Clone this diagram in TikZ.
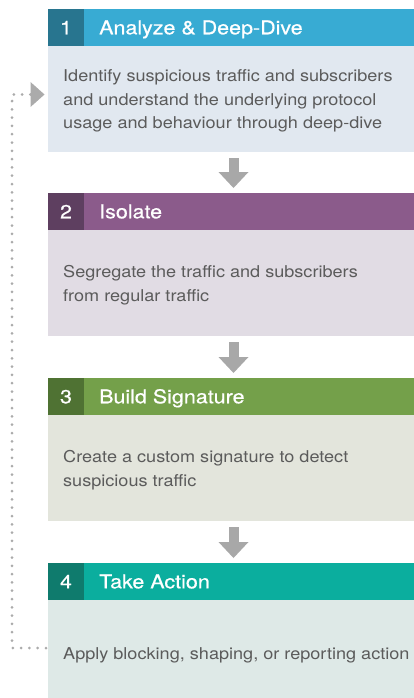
\documentclass[tikz,border=0pt]{standalone}
\usepackage{fontspec}
\setmainfont{TeX Gyre Heros}
\newfontfamily\bodyfont[FakeStretch=1.11]{TeX Gyre Heros}
\newfontfamily\titlefont[FakeStretch=1.13,FakeBold=0.6]{TeX Gyre Heros}
\usetikzlibrary{arrows.meta}
\definecolor{hA}{HTML}{38ABD3}\definecolor{sA}{HTML}{28758F}\definecolor{bA}{HTML}{E1E8F0}
\definecolor{hB}{HTML}{8B5B8B}\definecolor{sB}{HTML}{5E3F60}\definecolor{bB}{HTML}{E1DCE4}
\definecolor{hC}{HTML}{74A04A}\definecolor{sC}{HTML}{4F7233}\definecolor{bC}{HTML}{E3E5DC}
\definecolor{hD}{HTML}{0BAE9E}\definecolor{sD}{HTML}{0F7B6D}\definecolor{bD}{HTML}{DEE9E7}
\definecolor{arrowgray}{HTML}{A8A8A8}
\definecolor{dotgray}{HTML}{ABABAB}
\definecolor{txtgray}{HTML}{5B5B5B}
\begin{document}
\begin{tikzpicture}[x=1pt,y=-1pt,
  hdr/.style={rectangle, inner sep=0pt, outer sep=0pt, minimum width=371pt, minimum height=37pt, anchor=north west},
  numbox/.style={rectangle, inner sep=0pt, outer sep=0pt, minimum width=36pt, minimum height=37pt, anchor=north west},
  bodybox/.style={rectangle, inner sep=0pt, outer sep=0pt, minimum width=371pt, minimum height=106pt, anchor=north west},
  ttl/.style={anchor=base west, inner sep=0pt, text=white, font=\titlefont\fontsize{19}{22}\selectfont},
  numtxt/.style={anchor=base, inner sep=0pt, text=white, font=\titlefont\fontsize{19}{22}\selectfont},
  desc/.style={anchor=west, inner sep=0pt, align=left, text=txtgray, font=\bodyfont\fontsize{16.3}{23.5}\selectfont},
  flow/.style={draw=arrowgray, line width=10pt, -{Triangle[width=30pt,length=16pt,line width=0pt]}, shorten <=6pt, shorten >=5pt},
  loopline/.style={draw=dotgray, line width=3pt, line cap=round, dash pattern=on 0pt off 8.3pt, -{Triangle[width=25pt,length=14pt,line width=0pt]}}
]
\useasboundingbox (0,0) rectangle (414,698);
\clip (0,0) rectangle (414,698);
% block 1
\node[hdr, fill=hA] (h1) at (48,9) {};
\node[numbox, fill=sA] (n1) at (48,9) {};
\node[bodybox, fill=bA] (b1) at (48,46) {};
\node[numtxt] (m1) at (66,34.3) {1};
\node[ttl] (t1) at (99,34.3) {Analyze \& Deep-Dive};
\node[desc] (d1) at (63,101.3) {Identify suspicious traffic and subscribers\\and understand the underlying protocol\\usage and behaviour through deep-dive};
% block 2
\node[hdr, fill=hB] (h2) at (48,193) {};
\node[numbox, fill=sB] (n2) at (48,193) {};
\node[bodybox, fill=bB] (b2) at (48,230) {};
\node[numtxt] (m2) at (66,218.3) {2};
\node[ttl] (t2) at (99,218.3) {Isolate};
\node[desc] (d2) at (63,285.3) {Segregate the traffic and subscribers\\from regular traffic};
% block 3
\node[hdr, fill=hC] (h3) at (48,378) {};
\node[numbox, fill=sC] (n3) at (48,378) {};
\node[bodybox, fill=bC] (b3) at (48,415) {};
\node[numtxt] (m3) at (66,403.3) {3};
\node[ttl] (t3) at (99,403.3) {Build Signature};
\node[desc] (d3) at (63,470.3) {Create a custom signature to detect\\suspicious traffic};
% block 4
\node[hdr, fill=hD] (h4) at (48,563) {};
\node[numbox, fill=sD] (n4) at (48,563) {};
\node[bodybox, fill=bD] (b4) at (48,600) {};
\node[numtxt] (m4) at (66,588.3) {4};
\node[ttl] (t4) at (99,588.3) {Take Action};
\node[desc] (d4) at (63,655.3) {Apply blocking, shaping, or reporting action};
% flow arrows
\draw[flow] (b1.south) -- (h2.north);
\draw[flow] (b2.south) -- (h3.north);
\draw[flow] (b3.south) -- (h4.north);
% feedback loop
\coordinate (ls) at (46,648);
\coordinate (lt) at (44.5,94.5);
\draw[loopline] (ls) -- (12,648) |- (lt);
\end{tikzpicture}
\end{document}
